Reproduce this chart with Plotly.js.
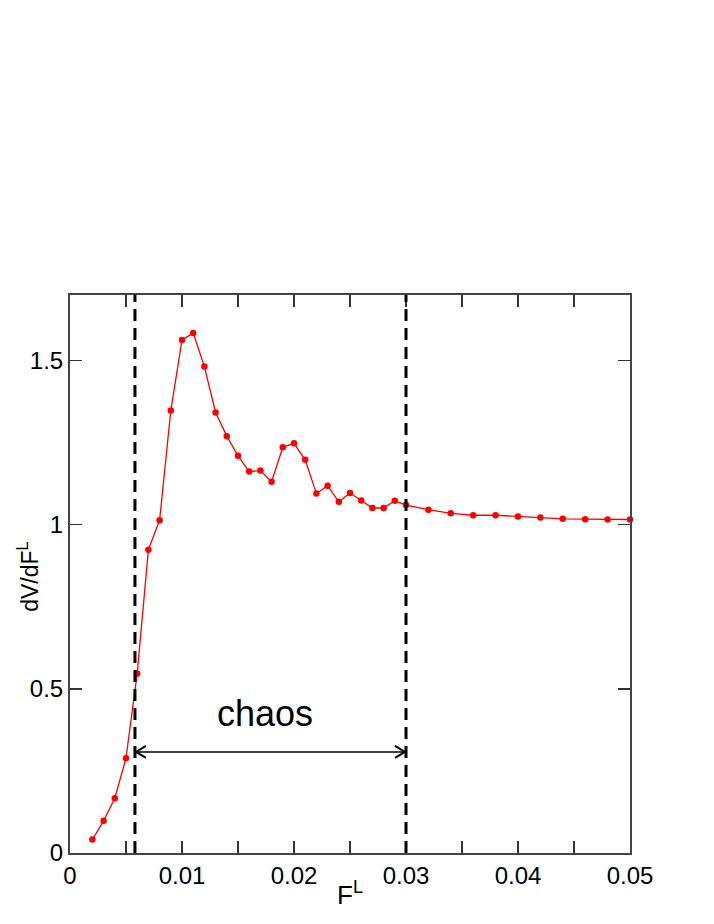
<!DOCTYPE html>
<html>
<head>
<meta charset="utf-8">
<script src="https://cdn.plot.ly/plotly-3.0.1.min.js"></script>
<style>html,body{margin:0;padding:0;background:#fff;}#chart{width:714px;height:924px;}</style>
</head>
<body>
<div id="chart"></div>
<script>
const forceL = [0.002,0.003,0.004,0.005,0.006,0.007,0.008,0.009,0.010,0.011,0.012,0.013,0.014,0.015,0.016,0.017,0.018,0.019,0.020,0.021,0.022,0.023,0.024,0.025,0.026,0.027,0.028,0.029,0.030,0.032,0.034,0.036,0.038,0.040,0.042,0.044,0.046,0.048,0.050];
const dVdF = [0.041,0.098,0.167,0.289,0.547,0.924,1.014,1.348,1.563,1.584,1.482,1.342,1.270,1.210,1.162,1.165,1.131,1.236,1.248,1.198,1.095,1.119,1.070,1.097,1.074,1.051,1.051,1.073,1.060,1.046,1.035,1.029,1.029,1.025,1.022,1.018,1.017,1.016,1.016];
const chaosBounds = [0.0058, 0.030];
const arrowLevel = 0.308;
const chaosLabel = {x: 0.0174, y: 0.426, text: 'chaos'};
const xTickVals = [0,0.01,0.02,0.03,0.04,0.05];
const xTickText = ['0','0.01','0.02','0.03','0.04','0.05'];
const yTickVals = [0,0.5,1,1.5];
const yTickText = ['0','0.5','1','1.5'];
const xTitle = 'F<sup>L</sup>';
const yTitle = 'dV/dF<sup>L</sup>';

const font = 'Liberation Sans, Arial, Helvetica, sans-serif';

const trace = {
  x: forceL, y: dVdF, type: 'scatter', mode: 'lines+markers',
  line: {color: '#ff0000', width: 1.3},
  marker: {color: '#ff0000', size: 6.5},
  cliponaxis: false, showlegend: false, hoverinfo: 'skip'
};

const shapes = [];
chaosBounds.forEach(b => shapes.push({
  type: 'line', xref: 'x', yref: 'paper', x0: b, x1: b, y0: 0, y1: 1,
  line: {color: '#000', width: 3, dash: '12px,7px'}, layer: 'above'
}));
shapes.push({type: 'line', xref: 'x', yref: 'y', x0: chaosBounds[0], x1: chaosBounds[1], y0: arrowLevel, y1: arrowLevel,
  line: {color: '#000', width: 1.5}});
shapes.push({type: 'path', xref: 'x', yref: 'y', xsizemode: 'pixel', ysizemode: 'pixel',
  xanchor: chaosBounds[0], yanchor: arrowLevel, path: 'M 11,6 L 1,0 L 11,-6',
  line: {color: '#000', width: 2}});
shapes.push({type: 'path', xref: 'x', yref: 'y', xsizemode: 'pixel', ysizemode: 'pixel',
  xanchor: chaosBounds[1], yanchor: arrowLevel, path: 'M -11,6 L -1,0 L -11,-6',
  line: {color: '#000', width: 2}});

const axisCommon = {
  showline: true, linecolor: '#444', linewidth: 2, mirror: 'ticks',
  ticks: 'inside', ticklen: 12, tickwidth: 1.3, tickcolor: '#333',
  showgrid: false, zeroline: false, fixedrange: true,
  tickfont: {family: font, size: 24, color: '#000'}
};

const layout = {
  width: 714, height: 924,
  margin: {l: 70, r: 84, t: 295, b: 71},
  paper_bgcolor: '#fff', plot_bgcolor: '#fff',
  font: {family: font, color: '#000'},
  xaxis: Object.assign({}, axisCommon, {
    range: [0, 0.05], tickmode: 'array', tickvals: xTickVals, ticktext: xTickText,
    minor: {dtick: 0.005, ticks: 'inside', ticklen: 12, tickwidth: 1.3, tickcolor: '#333', showgrid: false}
  }),
  yaxis: Object.assign({}, axisCommon, {
    range: [0, 1.7], tickmode: 'array', tickvals: yTickVals, ticktext: yTickText
  }),
  shapes: shapes,
  annotations: [{
    x: chaosLabel.x, y: chaosLabel.y, xref: 'x', yref: 'y', text: chaosLabel.text,
    showarrow: false, font: {family: font, size: 36, color: '#000'}
  }, {
    x: 0.5, y: -0.072, xref: 'paper', yref: 'paper', text: xTitle,
    showarrow: false, xanchor: 'center', yanchor: 'middle',
    font: {family: font, size: 26, color: '#000'}
  }, {
    x: -0.075, y: 0.495, xref: 'paper', yref: 'paper', text: yTitle, textangle: -90,
    showarrow: false, xanchor: 'center', yanchor: 'middle',
    font: {family: font, size: 23, color: '#000'}
  }]
};

Plotly.newPlot('chart', [trace], layout, {displayModeBar: false, staticPlot: true});
</script>
</body>
</html>
